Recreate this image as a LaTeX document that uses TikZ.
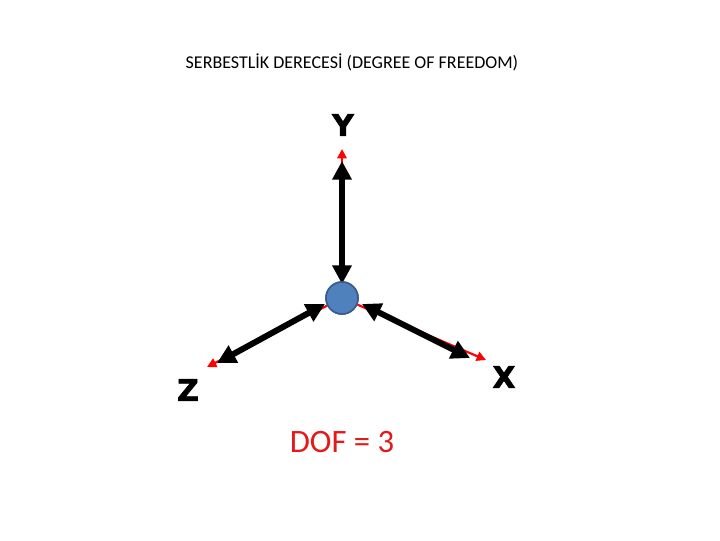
\documentclass[tikz,border=0pt]{standalone}
\usepackage{fontspec}
\setmainfont{Carlito}
\newfontfamily\axfont[FakeBold=2]{DejaVu Sans Bold}
\usetikzlibrary{arrows.meta}
\definecolor{ballblue}{HTML}{4F81BD}
\definecolor{ballrim}{HTML}{385D8A}
\definecolor{dofred}{HTML}{E31A1A}
\tikzset{
  redaxis/.style={draw=red, line width=1.6pt, -{Triangle[length=7pt,width=7pt]}},
  blackdbl/.style={draw=black, line width=4.5pt, {Triangle[length=14pt,width=14pt]}-{Triangle[length=14pt,width=14pt]}},
  axlabel/.style={font=\axfont\fontsize{22.5}{26}\selectfont},
}
\begin{document}
\begin{tikzpicture}[x=0.75pt,y=-0.75pt]
\useasboundingbox (0,0) rectangle (720,540);
\node (title) at (352,62) {\fontsize{13.5}{16}\selectfont SERBESTLİK DERECESİ (DEGREE OF FREEDOM)};
\node[circle, fill=ballblue, draw=ballrim, line width=1.2pt, minimum size=24pt, inner sep=0pt] (ball) at (342,298) {};
\coordinate (yend) at (342,149);
\coordinate (xend) at (486,360);
\coordinate (zend) at (207,367);
\coordinate (yb1) at (342,161);
\coordinate (yb2) at (342,284);
\coordinate (zb1) at (217,363);
\coordinate (zb2) at (325,304);
\coordinate (xb1) at (362,304);
\coordinate (xb2) at (470,358);
\draw[redaxis] (ball) -- (yend);
\draw[redaxis] (ball) -- (xend);
\draw[redaxis] (ball) -- (zend);
\draw[blackdbl] (yb1) -- (yb2);
\draw[blackdbl] (zb1) -- (zb2);
\draw[blackdbl] (xb1) -- (xb2);
\node[circle, fill=ballblue, draw=ballrim, line width=1.2pt, minimum size=24pt, inner sep=0pt] at (ball) {};
\node[axlabel] (ylab) at (343,125) {Y};
\node[axlabel] (xlab) at (504,377) {X};
\node[axlabel] (zlab) at (188,390) {Z};
\node[text=dofred, font=\fontsize{24.5}{29}\selectfont] (dof) at (342,442) {DOF = 3};
\end{tikzpicture}
\end{document}
